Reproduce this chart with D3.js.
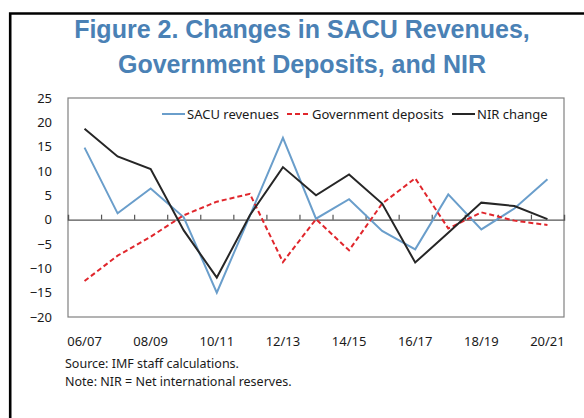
<!DOCTYPE html>
<html>
<head>
<meta charset="utf-8">
<script src="https://cdn.jsdelivr.net/npm/d3@7"></script>
<style>
  html, body { margin: 0; padding: 0; background: #ffffff; overflow: hidden; }
  #chart { width: 584px; height: 418px; }
</style>
</head>
<body>
<div id="chart"></div>
<script>
// Fiscal years shown on the x axis
const years = ['06/07', '07/08', '08/09', '09/10', '10/11', '11/12', '12/13', '13/14',
  '14/15', '15/16', '16/17', '17/18', '18/19', '19/20', '20/21'];

// Only every other year gets a label
const yearLabels = ['06/07', '08/09', '10/11', '12/13', '14/15', '16/17', '18/19', '20/21'];

// Series values (percent change)
const sacuRevenues = [14.8, 1.3, 6.4, 0.5, -15.0, 0.8, 16.8, 0.2, 4.2, -2.3, -6.1, 5.2, -2.0, 2.3, 8.3];
const govDeposits = [-12.6, -7.4, -3.5, 0.9, 3.7, 5.3, -8.7, 0.1, -6.3, 3.3, 8.5, -1.8, 1.5, -0.2, -1.1];
const nirChange = [18.7, 13.0, 10.4, -2.2, -11.9, 0.9, 10.8, 5.0, 9.3, 3.3, -8.8, -2.7, 3.5, 2.8, 0.1];

const yTicks = [25, 20, 15, 10, 5, 0, -5, -10, -15, -20];

const series = [
  { name: 'SACU revenues', values: sacuRevenues, color: '#6a9ecb', dash: null },
  { name: 'Government deposits', values: govDeposits, color: '#e0262c', dash: '5,3' },
  { name: 'NIR change', values: nirChange, color: '#262626', dash: null }
];

class ChangesChart {
  /**
   * @param {string} containerId - DOM element ID for the chart container
   */
  constructor(containerId) {
    this.container = document.getElementById(containerId);
    this.margin = { top: 98, right: 20, bottom: 101, left: 68 };
    this.fontFamily = "'Noto Sans', 'Open Sans', sans-serif";
    this._initChart();
    this._render();
  }

  _initChart() {
    this.svg = d3.select(this.container)
      .append('svg')
      .attr('width', 584)
      .attr('height', 418)
      .style('display', 'block');

    this.width = 584 - this.margin.left - this.margin.right;
    this.height = 418 - this.margin.top - this.margin.bottom;

    this.xScale = d3.scaleBand().domain(years).range([0, this.width]);
    this.yScale = d3.scaleLinear().domain([-20, 25]).range([this.height, 0]);
  }

  _render() {
    this._renderFrame();
    this._renderTitle();

    this.chartGroup = this.svg.append('g')
      .attr('transform', `translate(${this.margin.left},${this.margin.top})`);

    this._renderAxes();
    this._renderLines();
    this._renderLegend();
    this._renderNotes();
  }

  _renderFrame() {
    // Outer black box of the figure: only the top and left edges are in view
    this.svg.append('path')
      .attr('d', 'M10.2,430 V13.5 H600')
      .attr('fill', 'none')
      .attr('stroke', '#000000')
      .attr('stroke-width', 2.6);
  }

  _renderTitle() {
    const lines = ['Figure 2. Changes in SACU Revenues,', 'Government Deposits, and NIR'];
    this.svg.selectAll('.title-line')
      .data(lines)
      .enter()
      .append('text')
      .attr('class', 'title-line')
      .attr('x', 302)
      .attr('y', (d, i) => 38 + i * 35)
      .attr('text-anchor', 'middle')
      .attr('fill', '#4a81b5')
      .attr('font-family', "'Liberation Sans', Arial, sans-serif")
      .attr('font-weight', 'bold')
      .attr('font-size', '25px')
      .text(d => d);
  }

  _renderAxes() {
    // Plot border
    this.chartGroup.append('rect')
      .attr('width', this.width)
      .attr('height', this.height)
      .attr('fill', 'none')
      .attr('stroke', '#808080')
      .attr('stroke-width', 1.2);

    // Y axis labels (no tick marks)
    const yAxis = d3.axisLeft(this.yScale)
      .tickValues(yTicks)
      .tickSize(0)
      .tickPadding(16)
      .tickFormat(d3.format('d'));

    this.chartGroup.append('g')
      .call(yAxis)
      .call(g => g.select('.domain').remove())
      .selectAll('text')
      .attr('fill', '#1a1a1a')
      .attr('font-size', '13px')
      .attr('font-family', this.fontFamily);

    // Zero line with small upward ticks between categories
    const zeroY = this.yScale(0);
    const boundaries = years.slice(1).map(d => this.xScale(d));

    const xAxis = d3.axisTop(d3.scaleLinear().domain([0, this.width]).range([0, this.width]))
      .tickValues(boundaries)
      .tickSize(5)
      .tickFormat('');

    this.chartGroup.append('g')
      .attr('transform', `translate(0,${zeroY})`)
      .call(xAxis)
      .call(g => g.select('.domain').attr('stroke', '#555555').attr('stroke-width', 1.4))
      .call(g => g.selectAll('.tick line').attr('stroke', '#555555').attr('stroke-width', 1.2));

    // Category labels below the plot
    this.chartGroup.append('g')
      .selectAll('text')
      .data(yearLabels)
      .enter()
      .append('text')
      .attr('x', d => this.xScale(d) + this.xScale.bandwidth() / 2)
      .attr('y', this.height + 29)
      .attr('text-anchor', 'middle')
      .attr('fill', '#1a1a1a')
      .attr('font-size', '13px')
      .attr('font-family', this.fontFamily)
      .text(d => d);
  }

  _renderLines() {
    const line = d3.line()
      .x((d, i) => this.xScale(years[i]) + this.xScale.bandwidth() / 2)
      .y(d => this.yScale(d));

    this.chartGroup.selectAll('.series-line')
      .data(series)
      .enter()
      .append('path')
      .attr('class', 'series-line')
      .attr('d', d => line(d.values))
      .attr('fill', 'none')
      .attr('stroke', d => d.color)
      .attr('stroke-width', 2)
      .attr('stroke-dasharray', d => d.dash)
      .attr('stroke-linejoin', 'miter');
  }

  _renderLegend() {
    // Legend entries, left edge of each sample line
    const legendX = [94, 219, 384];
    const legendY = 16;

    const items = this.chartGroup.selectAll('.legend-item')
      .data(series)
      .enter()
      .append('g')
      .attr('class', 'legend-item')
      .attr('transform', (d, i) => `translate(${legendX[i]},${legendY})`);

    items.append('line')
      .attr('x1', 0)
      .attr('x2', 23)
      .attr('stroke', d => d.color)
      .attr('stroke-width', 2)
      .attr('stroke-dasharray', d => d.dash);

    items.append('text')
      .attr('x', 25)
      .attr('dy', '0.35em')
      .attr('fill', '#1a1a1a')
      .attr('font-size', '13px')
      .attr('font-family', this.fontFamily)
      .text(d => d.name);
  }

  _renderNotes() {
    const notes = ['Source: IMF staff calculations.', 'Note: NIR = Net international reserves.'];
    this.svg.selectAll('.note-line')
      .data(notes)
      .enter()
      .append('text')
      .attr('class', 'note-line')
      .attr('x', 65)
      .attr('y', (d, i) => 368 + i * 18)
      .attr('fill', '#1a1a1a')
      .attr('font-size', '12.5px')
      .attr('font-family', this.fontFamily)
      .text(d => d);
  }
}

const chart = new ChangesChart('chart');
</script>
</body>
</html>
